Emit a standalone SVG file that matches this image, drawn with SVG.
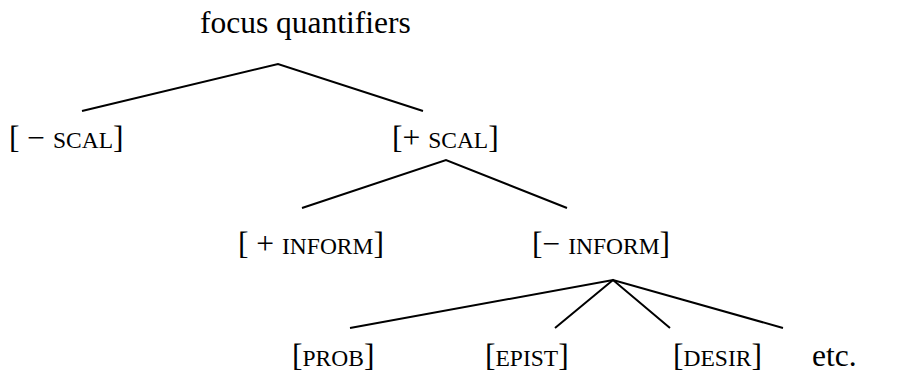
<svg xmlns="http://www.w3.org/2000/svg" width="905" height="374" viewBox="0 0 905 374">
  <style>
    text { font-family: "Liberation Serif", "Times New Roman", serif; font-size: 31.5px; fill: #000; }
    .sc { font-size: 23.5px; }
    .edge { stroke: #000; stroke-width: 2; fill: none; stroke-linecap: butt; }
  </style>
  <rect width="905" height="374" fill="#fff"/>

  <!-- tree branches -->
  <g id="connectors">
    <path class="edge" d="M82,111 L278,64 L423,111"/>
    <path class="edge" d="M302,208 L446,160 L567,208"/>
    <path class="edge" d="M350,328 L613,280 L783,328"/>
    <path class="edge" d="M555,328 L613,280 L670,328"/>
  </g>

  <g id="root"><text x="200" y="33">focus quantifiers</text></g>
  <g id="minus-scal"><text x="9" y="148">[ − <tspan class="sc">SCAL</tspan>]</text></g>
  <g id="plus-scal"><text x="392" y="148">[+ <tspan class="sc">SCAL</tspan>]</text></g>
  <g id="plus-inform"><text x="238" y="254">[ + <tspan class="sc">INFORM</tspan>]</text></g>
  <g id="minus-inform"><text x="532" y="254">[− <tspan class="sc">INFORM</tspan>]</text></g>
  <g id="prob"><text x="292" y="366">[<tspan class="sc">PROB</tspan>]</text></g>
  <g id="epist"><text x="485" y="366">[<tspan class="sc">EPIST</tspan>]</text></g>
  <g id="desir"><text x="673" y="366">[<tspan class="sc">DESIR</tspan>]</text></g>
  <g id="etc"><text x="812" y="366">etc.</text></g>
</svg>
